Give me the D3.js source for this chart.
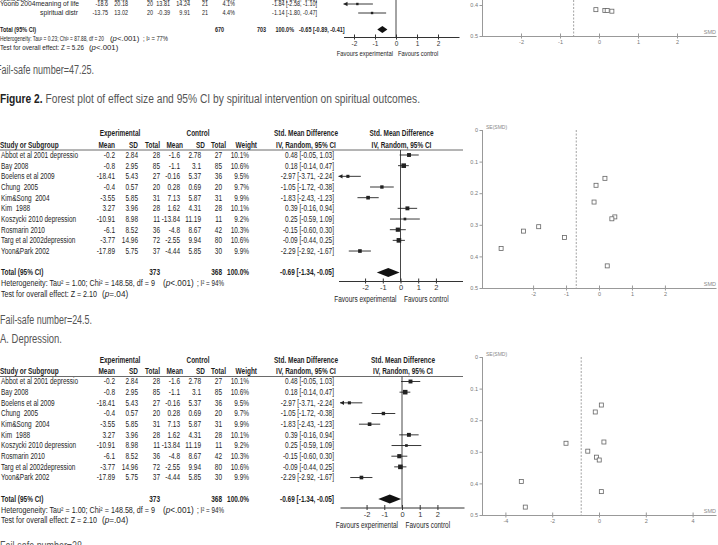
<!DOCTYPE html>
<html>
<head>
<meta charset="utf-8">
<script src="https://cdn.jsdelivr.net/npm/d3@7"></script>
<style>
  body { margin: 0; background: #fff; }
  svg { display: block; }
  text { white-space: pre; }
</style>
</head>
<body>
<svg id="chart" width="718" height="545"></svg>
<script>
// ---- Figure 2 tail (spiritual outcomes), cut off at the page top
var spStudies = ["Yoonb 2004", "Yoonb 2004meaning of life", "spiritual distr"];
var spExpMean = [-13.2, -18.6, -13.75];
var spExpSD = [12.09, 20.18, 13.02];
var spExpN = [20, 20, 20];
var spCtlMean = [-6.1, 13.81, -0.39];
var spCtlSD = [9.08, 14.24, 9.91];
var spCtlN = [21, 21, 21];
var spWeight = [4.3, 4.1, 4.4];
var spSMD = [-1.26, -1.84, -1.14];
var spLo = [-1.94, -2.58, -1.80];
var spHi = [-0.59, -1.10, -0.47];
var spTotalN = [670, 703];
var spPooled = [-0.65, -0.89, -0.41];
var spFunnelSMD = [-0.08, 0.15, 0.21, 0.33];
var spFunnelSE = [0.415, 0.418, 0.418, 0.42];

// ---- A. Depression
var depStudies = ["Abbot et al 2001 depressio", "Bay 2008", "Boelens et al 2009", "Chung  2005",
  "Kim&Song  2004", "Kim  1988", "Koszycki 2010 depression", "Rosmarin 2010",
  "Targ et al 2002depression", "Yoon&Park 2002"];
var depExpMean = [-0.2, -0.8, -18.41, -0.4, -3.55, 3.27, -10.91, -6.1, -3.77, -17.89];
var depExpSD = [2.84, 2.95, 5.43, 0.57, 5.85, 3.96, 8.98, 8.52, 14.96, 5.75];
var depExpN = [28, 85, 27, 20, 31, 28, 11, 36, 72, 37];
var depCtlMean = [-1.6, -1.1, -0.16, 0.28, 7.13, 1.62, -13.84, -4.8, -2.55, -4.44];
var depCtlSD = [2.78, 3.1, 5.37, 0.69, 5.87, 4.31, 11.19, 8.67, 9.94, 5.85];
var depCtlN = [27, 85, 36, 20, 31, 28, 11, 42, 80, 30];
var depWeight = [10.1, 10.6, 9.5, 9.7, 9.9, 10.1, 9.2, 10.3, 10.6, 9.9];
var depSMD = [0.48, 0.18, -2.97, -1.05, -1.83, 0.39, 0.25, -0.15, -0.09, -2.29];
var depLo = [-0.05, -0.14, -3.71, -1.72, -2.43, -0.16, -0.59, -0.60, -0.44, -2.92];
var depHi = [1.03, 0.47, -2.24, -0.38, -1.23, 0.94, 1.09, 0.30, 0.25, -1.67];
var depTotalN = [373, 368];
var depPooled = [-0.69, -1.34, -0.05];
var depSE = [0.275, 0.153, 0.375, 0.340, 0.306, 0.281, 0.430, 0.228, 0.175, 0.320];
// second funnel plot (bottom)
var dep2SMD = [0.10, -0.16, -1.41, 0.21, -0.48, -0.11, 0.01, -3.32, 0.10, -3.15];
var dep2SE = [0.152, 0.174, 0.273, 0.269, 0.298, 0.317, 0.326, 0.394, 0.426, 0.475];
var dep2Pooled = -0.76;

// ticks
var forestTicks = [-2, -1, 0, 1, 2];
var seTicks = [0, 0.1, 0.2, 0.3, 0.4, 0.5];
var funnelTicksA = [-2, -1, 0, 1, 2];
var funnelTicksB = [-4, -2, 0, 2, 4];

var NAR = "'Liberation Sans Narrow','Arial Narrow','Liberation Sans',sans-serif";
var SANS = "'Liberation Sans',Arial,sans-serif";
var INK = "#1e1e1e";
var SQUEEZE = 0.78;   // narrow-font look

var svg = d3.select("#chart");
svg.append("rect").attr("width", 718).attr("height", 545).attr("fill", "#fff");

var f2 = function (v) { return v.toFixed(2); };
var ci = function (e, l, h) { return f2(e) + " [" + f2(l) + ", " + f2(h) + "]"; };

// text helper, y is the vertical centre of the line
function txt(g, x, y, s, o) {
  o = o || {};
  var t = g.append("text")
    .attr("x", x).attr("y", y).attr("dy", "0.35em")
    .attr("font-family", o.family || NAR)
    .attr("font-size", o.size || 8.3)
    .attr("font-weight", o.bold ? "bold" : null)
    .attr("text-anchor", o.anchor || "start")
    .attr("fill", o.fill || INK)
    .text(s);
  var len = o.len;
  if (!len && !o.family && s) len = t.node().getComputedTextLength() * SQUEEZE;
  if (len) t.attr("textLength", len).attr("lengthAdjust", "spacingAndGlyphs");
  return t;
}

// "(p<.001)" style pieces set in a bigger plain font
function pval(g, x, y, rest, size) {
  var t = txt(g, x, y, "(", {size: size, family: SANS});
  t.append("tspan").attr("font-style", "italic").text("p");
  t.append("tspan").text(rest);
}

// CI lines + weight boxes
function ciRows(g, x, est, lo, hi, wt, yOf) {
  var d0 = x.domain()[0], d1 = x.domain()[1];
  var size = d3.scaleLinear().domain([9, 10.6]).range([2.4, 4.6]).clamp(true);
  est.forEach(function (e, i) {
    var y = yOf(i);
    g.append("line")
      .attr("x1", x(Math.max(lo[i], d0))).attr("x2", x(Math.min(hi[i], d1)))
      .attr("y1", y).attr("y2", y)
      .attr("stroke", "#222").attr("stroke-width", 0.9);
    if (lo[i] < d0) {
      g.append("path").attr("d", "M" + x(d0) + "," + y + "l4,-2.2v4.4z").attr("fill", "#222");
    }
    var s = size(wt[i]);
    g.append("rect")
      .attr("x", x(e) - s / 2).attr("y", y - s / 2)
      .attr("width", s).attr("height", s)
      .attr("fill", "#222");
  });
}

function diamond(g, x, y, p, hh) {
  g.append("path")
    .attr("d", "M" + x(p[1]) + "," + y + "L" + x(p[0]) + "," + (y - hh) +
               "L" + x(p[2]) + "," + y + "L" + x(p[0]) + "," + (y + hh) + "Z")
    .attr("fill", "#111");
}

function forestAxis(g, x, y, fs) {
  var ax = g.append("g")
    .attr("transform", "translate(0," + y + ")")
    .call(d3.axisBottom(x).tickValues(forestTicks)
      .tickSizeInner(2.5).tickSizeOuter(0).tickPadding(1.5)
      .tickFormat(function (d) { return d; }));
  ax.select(".domain").attr("stroke", "#333");
  ax.selectAll(".tick line").attr("y1", -2.5).attr("stroke", "#333");
  ax.selectAll("text").attr("font-family", NAR).attr("font-size", fs).attr("fill", "#333");
}

// ------------------------------------------------------------------
// top: end of Figure 2 forest plot
(function () {
  var g = svg.append("g");
  var fs = 7;
  var x = d3.scaleLinear().domain([-2.5, 3]).range([343.5, 459]);
  var rowY = [-1.5, 4, 13];
  var nameX = [0, 0, 40], nameLen = [null, 79, 38];
  var cols = [[spExpMean, 108], [spExpSD, 128], [spExpN, 153], [spCtlMean, 170], [spCtlSD, 190], [spCtlN, 208]];

  spStudies.forEach(function (s, i) {
    txt(g, nameX[i], rowY[i], s, {size: fs, len: nameLen[i]});
    cols.forEach(function (c) { txt(g, c[1], rowY[i], String(c[0][i]), {size: fs, anchor: "end"}); });
    txt(g, 235, rowY[i], spWeight[i].toFixed(1) + "%", {size: fs, anchor: "end"});
    txt(g, 317, rowY[i], ci(spSMD[i], spLo[i], spHi[i]), {size: fs, anchor: "end"});
  });

  var totY = 29.5;
  txt(g, 0, totY, "Total (95% CI)", {size: fs, bold: true, len: 36});
  txt(g, 224, totY, String(spTotalN[0]), {size: fs, bold: true, anchor: "end"});
  txt(g, 266, totY, String(spTotalN[1]), {size: fs, bold: true, anchor: "end"});
  txt(g, 294, totY, "100.0%", {size: fs, bold: true, anchor: "end"});
  txt(g, 299, totY, ci(spPooled[0], spPooled[1], spPooled[2]), {size: fs, bold: true});

  txt(g, 0, 38.5, "Heterogeneity: Tau² = 0.23; Chi² = 87.88, df = 20", {size: fs, len: 104});
  pval(g, 110, 38.5, "<.001)", 7.8);
  txt(g, 143, 38.5, "; I² = 77%", {size: fs, len: 25});
  txt(g, 0, 47.5, "Test for overall effect: Z = 5.26", {size: fs, len: 84});
  pval(g, 89, 47.5, "<.001)", 7.8);

  g.append("line").attr("x1", x(0)).attr("x2", x(0)).attr("y1", 0).attr("y2", 37)
    .attr("stroke", "#333").attr("stroke-width", 0.9);
  ciRows(g, x, spSMD, spLo, spHi, spWeight, function (i) { return rowY[i]; });
  diamond(g, x, totY, spPooled, 3.5);
  forestAxis(g, x, 37, 6.5);
  txt(g, x(0) - 3, 53.5, "Favours experimental", {size: 7.5, anchor: "end"});
  txt(g, x(0) + 2, 53.5, "Favours control", {size: 7.5});
})();

// ------------------------------------------------------------------
// depression forest plot, top = centre of first header line
function depressionForest(top, zero) {
  var g = svg.append("g");
  var pitch = 10.67;
  var x = d3.scaleLinear().domain([-3.5, 3.5]).range([zero - 62, zero + 62]);
  var h2 = top + 11.5, rule = top + 16.5, r0 = top + 21.5;
  var rowY = function (i) { return r0 + i * pitch; };
  var totY = top + 139, hetY = top + 150, testY = top + 160.5, axisY = top + 147.5;

  txt(g, 120, top, "Experimental", {bold: true, anchor: "middle"});
  txt(g, 198, top, "Control", {bold: true, anchor: "middle"});
  txt(g, 306, top, "Std. Mean Difference", {bold: true, anchor: "middle"});
  txt(g, zero + 1, top, "Std. Mean Difference", {bold: true, anchor: "middle"});

  txt(g, 0, h2, "Study or Subgroup", {bold: true});
  [["Mean", 115], ["SD", 138], ["Total", 160], ["Mean", 183], ["SD", 205], ["Total", 226], ["Weight", 257]]
    .forEach(function (h) { txt(g, h[1], h2, h[0], {bold: true, anchor: "end"}); });
  txt(g, 306, h2, "IV, Random, 95% CI", {bold: true, anchor: "middle"});
  txt(g, zero + 1, h2, "IV, Random, 95% CI", {bold: true, anchor: "middle"});
  g.append("line").attr("x1", 0).attr("x2", 463).attr("y1", rule).attr("y2", rule)
    .attr("stroke", "#444").attr("stroke-width", 0.8);

  var cols = [[depExpMean, 115], [depExpSD, 138], [depExpN, 160], [depCtlMean, 180], [depCtlSD, 201], [depCtlN, 222]];
  depStudies.forEach(function (s, i) {
    var y = rowY(i);
    txt(g, 1, y, s);
    cols.forEach(function (c) { txt(g, c[1], y, String(c[0][i]), {anchor: "end"}); });
    txt(g, 249, y, depWeight[i].toFixed(1) + "%", {anchor: "end"});
    txt(g, 334, y, ci(depSMD[i], depLo[i], depHi[i]), {anchor: "end"});
  });

  txt(g, 1, totY, "Total (95% CI)", {bold: true});
  txt(g, 160, totY, String(depTotalN[0]), {bold: true, anchor: "end"});
  txt(g, 222, totY, String(depTotalN[1]), {bold: true, anchor: "end"});
  txt(g, 249, totY, "100.0%", {bold: true, anchor: "end"});
  txt(g, 334, totY, ci(depPooled[0], depPooled[1], depPooled[2]), {bold: true, anchor: "end"});

  txt(g, 1, hetY, "Heterogeneity: Tau² = 1.00; Chi² = 148.58, df = 9", {len: 154});
  pval(g, 163, hetY, "<.001)", 8.2);
  txt(g, 197, hetY, "; I² = 94%", {len: 27});
  txt(g, 1, testY, "Test for overall effect: Z = 2.10", {len: 96});
  pval(g, 102, testY, "=.04)", 8.2);

  g.append("line").attr("x1", x(0)).attr("x2", x(0)).attr("y1", rule).attr("y2", axisY)
    .attr("stroke", "#333").attr("stroke-width", 0.9);
  ciRows(g, x, depSMD, depLo, depHi, depWeight, rowY);
  diamond(g, x, totY, depPooled, 4.5);
  forestAxis(g, x, axisY, 7.5);
  txt(g, x(0) - 4, axisY + 18, "Favours experimental", {anchor: "end"});
  txt(g, x(0) + 3.5, axisY + 18, "Favours control", {});
}

// ------------------------------------------------------------------
function funnel(o) {
  var g = svg.append("g");
  var x = d3.scaleLinear().domain(o.xDom).range([482, 716]);
  var y = d3.scaleLinear().domain([0, 0.5]).range(o.yRange);
  g.append("line")
    .attr("x1", x(o.pooled)).attr("x2", x(o.pooled))
    .attr("y1", y(0)).attr("y2", y(0.5))
    .attr("stroke", "#8c8c8c").attr("stroke-width", 0.8).attr("stroke-dasharray", "2,1.5");
  var ya = g.append("g").attr("transform", "translate(" + x.range()[0] + ",0)")
    .call(d3.axisLeft(y).tickValues(seTicks).tickSizeInner(2.5).tickSizeOuter(0).tickPadding(1.5)
      .tickFormat(function (d) { return d === 0 ? "0" : d.toFixed(1); }));
  var xa = g.append("g").attr("transform", "translate(0," + y(0.5) + ")")
    .call(d3.axisBottom(x).tickValues(o.ticks).tickSizeInner(2.5).tickSizeOuter(0).tickPadding(2)
      .tickFormat(function (d) { return d; }));
  [ya, xa].forEach(function (a) {
    a.select(".domain").attr("stroke", "#999");
    a.selectAll(".tick line").attr("stroke", "#999");
    a.selectAll("text").attr("font-family", SANS).attr("font-size", 5.5).attr("fill", "#777");
  });
  ya.selectAll(".tick line").attr("x1", 1);
  xa.selectAll(".tick line").attr("y1", -2.5);

  g.selectAll(null).data(o.smd).enter().append("rect")
    .attr("x", function (d) { return x(d) - 2; })
    .attr("y", function (d, i) { return y(o.se[i]) - 2; })
    .attr("width", 4).attr("height", 4)
    .attr("fill", "#fff").attr("stroke", "#666").attr("stroke-width", 0.8);

  txt(g, 486, y(0) - 3, "SE(SMD)", {family: SANS, size: 5, fill: "#888"});
  txt(g, 716, y(0.5) - 4, "SMD", {family: SANS, size: 5.5, fill: "#888", anchor: "end"});
}

// ------------------------------------------------------------------
// captions
function caption(x, y, s, len) {
  return txt(svg, x, y, s, {family: SANS, size: 12.5, fill: "#555", len: len});
}
caption(-4, 70, "Fail-safe number=47.25.", 98);
var fig = caption(0, 99, "", 420);
fig.append("tspan").attr("font-weight", "bold").attr("fill", "#222").text("Figure 2. ");
fig.append("tspan").text("Forest plot of effect size and 95% CI by spiritual intervention on spiritual outcomes.");
caption(0, 320, "Fail-safe number=24.5.", 92);
caption(0, 339, "A. Depression.", 62);
caption(0, 546, "Fail-safe number=28", 82);

funnel({xDom: [-3, 3], yRange: [-119, 36], ticks: funnelTicksA,
        pooled: spPooled[0], smd: spFunnelSMD, se: spFunnelSE});
depressionForest(133.5, 400.5);
funnel({xDom: [-3.55, 3.55], yRange: [130, 288], ticks: funnelTicksA,
        pooled: depPooled[0], smd: depSMD, se: depSE});
depressionForest(360, 402);
funnel({xDom: [-5, 5], yRange: [357, 515], ticks: funnelTicksB,
        pooled: dep2Pooled, smd: dep2SMD, se: dep2SE});
</script>
</body>
</html>
